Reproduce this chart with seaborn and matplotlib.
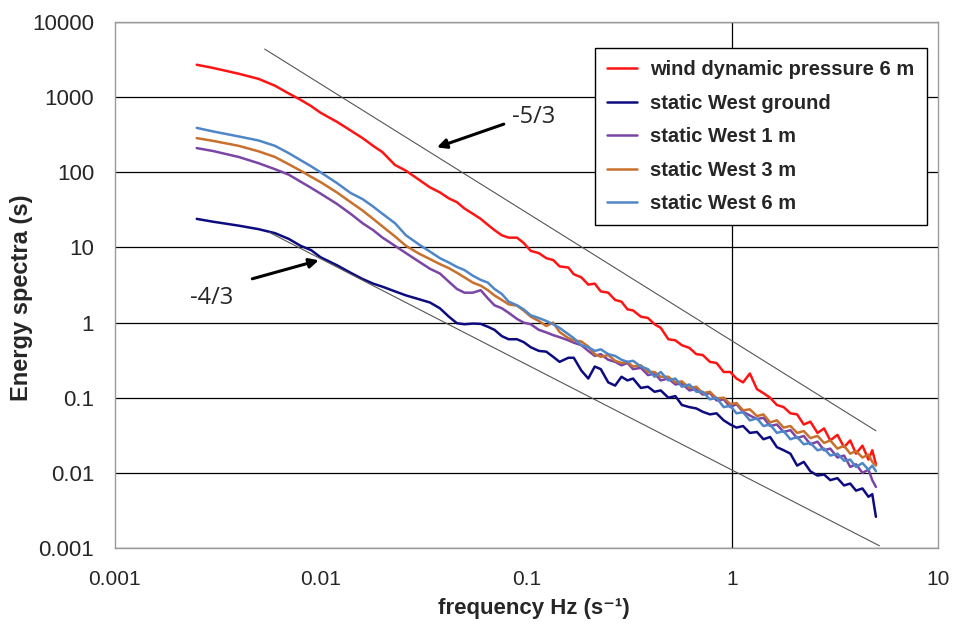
import matplotlib
matplotlib.use("Agg")
import matplotlib.pyplot as plt
import seaborn as sns
import pandas as pd

# frequency grid (Hz) shared by all spectra
freq = [0.0025, 0.003, 0.004, 0.005, 0.006, 0.007, 0.008, 0.009, 0.010, 0.012,
        0.014, 0.016, 0.018, 0.020, 0.023, 0.026, 0.030, 0.034, 0.038, 0.042,
        0.046, 0.050, 0.055, 0.060, 0.065, 0.070, 0.076, 0.082, 0.090, 0.097,
        0.105, 0.115, 0.125, 0.135, 0.145, 0.16, 0.17, 0.185, 0.20, 0.215,
        0.23, 0.25, 0.27, 0.29, 0.31, 0.33, 0.36, 0.39, 0.42, 0.45,
        0.49, 0.53, 0.57, 0.62, 0.67, 0.72, 0.78, 0.84, 0.91, 0.98,
        1.05, 1.13, 1.22, 1.32, 1.42, 1.53, 1.65, 1.78, 1.92, 2.07,
        2.23, 2.4, 2.6, 2.8, 3.0, 3.25, 3.5, 3.75, 4.0, 4.3,
        4.6, 4.8, 5.0]

wind_6m = [2700, 2450, 2050, 1750, 1420, 1120, 920, 760, 620, 470,
           360, 285, 225, 185, 125, 105, 80, 63, 54, 45,
           40, 33, 28, 24, 20, 17, 14.5, 13.5, 13.5, 11.5,
           9.0, 8.4, 7.2, 6.8, 5.6, 5.4, 4.4, 4.0, 3.2, 3.3,
           2.6, 2.5, 2.0, 1.9, 1.5, 1.45, 1.2, 1.15, 0.95, 0.85,
           0.60, 0.58, 0.50, 0.46, 0.38, 0.37, 0.30, 0.29, 0.22, 0.22,
           0.18, 0.16, 0.21, 0.13, 0.115, 0.10, 0.08, 0.075, 0.062, 0.060,
           0.044, 0.048, 0.034, 0.039, 0.027, 0.032, 0.022, 0.027, 0.018, 0.023,
           0.015, 0.020, 0.013]

west_ground = [24, 22, 19.5, 17.5, 15.5, 13, 10.5, 9.2, 7.4, 5.8,
               4.6, 3.8, 3.3, 3.0, 2.6, 2.3, 2.05, 1.85, 1.55, 1.2,
               0.98, 0.95, 0.97, 0.96, 0.88, 0.80, 0.66, 0.60, 0.60, 0.55,
               0.47, 0.42, 0.41, 0.35, 0.30, 0.34, 0.34, 0.23, 0.18, 0.26,
               0.24, 0.16, 0.145, 0.19, 0.17, 0.18, 0.135, 0.14, 0.12, 0.125,
               0.10, 0.105, 0.08, 0.075, 0.072, 0.065, 0.060, 0.062, 0.050, 0.044,
               0.040, 0.042, 0.034, 0.035, 0.028, 0.030, 0.022, 0.020, 0.018, 0.0125,
               0.014, 0.0105, 0.0092, 0.0095, 0.0080, 0.0085, 0.0068, 0.0072, 0.0058, 0.0062,
               0.0048, 0.0052, 0.0026]

west_1m = [210, 192, 160, 132, 110, 93, 75, 62, 52, 38,
           28, 21, 17, 13.5, 10.5, 8.4, 6.5, 5.2, 4.5, 3.5,
           2.8, 2.5, 2.5, 2.7, 2.1, 1.7, 1.55, 1.35, 1.12, 1.0,
           0.95, 0.80, 0.74, 0.68, 0.64, 0.58, 0.54, 0.50, 0.42, 0.36,
           0.38, 0.32, 0.30, 0.27, 0.29, 0.24, 0.25, 0.20, 0.21, 0.17,
           0.18, 0.15, 0.155, 0.125, 0.13, 0.11, 0.115, 0.092, 0.095, 0.075,
           0.082, 0.065, 0.058, 0.052, 0.054, 0.042, 0.044, 0.035, 0.037, 0.029,
           0.031, 0.024, 0.026, 0.020, 0.021, 0.016, 0.017, 0.012, 0.013, 0.010,
           0.011, 0.008, 0.0065]

west_3m = [285, 262, 225, 190, 160, 128, 105, 87, 74, 54,
           40, 31, 24, 19, 14, 10.5, 8.3, 7.0, 6.0, 5.3,
           4.6, 4.0, 3.4, 3.1, 2.7, 2.3, 2.0, 1.75, 1.68, 1.45,
           1.2, 1.05, 0.90, 1.0, 0.75, 0.62, 0.58, 0.56, 0.48, 0.38,
           0.35, 0.37, 0.31, 0.29, 0.30, 0.26, 0.27, 0.22, 0.22, 0.19,
           0.19, 0.16, 0.165, 0.135, 0.14, 0.115, 0.12, 0.098, 0.10, 0.082,
           0.085, 0.068, 0.070, 0.057, 0.060, 0.047, 0.050, 0.040, 0.042, 0.034,
           0.036, 0.029, 0.031, 0.025, 0.027, 0.021, 0.023, 0.018, 0.0195, 0.016,
           0.0175, 0.014, 0.0125]

west_6m = [390, 350, 300, 265, 225, 180, 145, 120, 100, 72,
           53, 44, 35, 28, 21, 14.5, 11, 8.8, 7.2, 6.3,
           5.5, 5.0, 4.2, 3.7, 3.4, 2.8, 2.4, 1.9, 1.7, 1.5,
           1.25, 1.15, 1.05, 0.95, 0.85, 0.70, 0.62, 0.50, 0.47, 0.42,
           0.44, 0.38, 0.36, 0.32, 0.30, 0.31, 0.26, 0.24, 0.19, 0.22,
           0.17, 0.18, 0.14, 0.15, 0.12, 0.12, 0.095, 0.10, 0.075, 0.078,
           0.062, 0.064, 0.050, 0.053, 0.042, 0.044, 0.034, 0.036, 0.028, 0.030,
           0.024, 0.025, 0.020, 0.021, 0.017, 0.018, 0.0145, 0.015, 0.012, 0.0135,
           0.011, 0.0125, 0.0105]

series_names = ["wind dynamic pressure 6 m", "static West ground", "static West 1 m",
                "static West 3 m", "static West 6 m"]
series_colors = ["#FF1414", "#0C0C80", "#7B45A6", "#C8702C", "#4E86C8"]

# reference slopes (end points)
slope53_f = [0.00535, 5.0]
slope53_e = [4365, 0.0363]
slope43_f = [0.00565, 5.2]
slope43_e = [15.8, 0.00107]

x_ticks = [0.001, 0.01, 0.1, 1, 10]
x_labels = ["0.001", "0.01", "0.1", "1", "10"]
y_ticks = [0.001, 0.01, 0.1, 1, 10, 100, 1000, 10000]
y_labels = ["0.001", "0.01", "0.1", "1", "10", "100", "1000", "10000"]

sns.set_style("white")
plt.rcParams["font.family"] = ["Liberation Sans", "DejaVu Sans"]

all_values = [wind_6m, west_ground, west_1m, west_3m, west_6m]
df = pd.DataFrame({
    "frequency": freq * len(series_names),
    "energy": sum(all_values, []),
    "series": [name for name in series_names for _ in freq],
})

fig, ax = plt.subplots(figsize=(9.57, 6.33), dpi=100)
fig.subplots_adjust(left=0.120, right=0.980, bottom=0.1343, top=0.9652)

ax.set_xscale("log")
ax.set_yscale("log")

sns.lineplot(data=df, x="frequency", y="energy", hue="series", hue_order=series_names,
             palette=series_colors, estimator=None, sort=False, linewidth=1.8, ax=ax)

sns.lineplot(x=slope53_f, y=slope53_e, color="#555555", linewidth=0.8, ax=ax, legend=False)
sns.lineplot(x=slope43_f, y=slope43_e, color="#555555", linewidth=0.8, ax=ax, legend=False)

ax.set_xlim(0.001, 10)
ax.set_ylim(0.001, 10000)
ax.minorticks_off()
ax.set_xticks(x_ticks)
ax.set_xticklabels(x_labels, fontsize=15)
ax.set_yticks(y_ticks)
ax.set_yticklabels(y_labels, fontsize=16)
ax.tick_params(axis="x", direction="out", length=4, width=0.8, color="black", pad=12)
ax.tick_params(axis="y", length=0, pad=15)

ax.yaxis.grid(True, color="black", linewidth=0.9)
ax.xaxis.grid(False)
ax.axvline(1, color="black", linewidth=0.9, zorder=1)
for sp in ax.spines.values():
    sp.set_color("#9A9A9A")
    sp.set_linewidth(1.0)

ax.set_xlabel("frequency Hz (s\u207b\u00b9)", fontsize=16, fontweight="bold")
ax.set_ylabel("Energy spectra (s)", fontsize=17, fontweight="bold")
ax.xaxis.set_label_coords(0.509, -0.095)
ax.yaxis.set_label_coords(-0.0996, 0.475)

# slope annotations
ax.annotate("", xy=(0.0357, 209), xytext=(0.080, 450),
            arrowprops=dict(arrowstyle="-|>", color="black", lw=2.2, mutation_scale=14))
ax.text(0.109, 541, "-5/3", fontsize=17, ha="center", va="center", family=["Open Sans", "DejaVu Sans"])
ax.annotate("", xy=(0.0101, 6.9), xytext=(0.00452, 3.74),
            arrowprops=dict(arrowstyle="-|>", color="black", lw=2.2, mutation_scale=14))
ax.text(0.00296, 2.15, "-4/3", fontsize=17, ha="center", va="center", family=["Open Sans", "DejaVu Sans"])

handles, labels = ax.get_legend_handles_labels()
leg = ax.legend(handles[:5], labels[:5], loc="upper right", bbox_to_anchor=(0.9866, 0.9506),
                borderaxespad=0, prop={"weight": "bold", "size": 14.5}, frameon=True,
                fancybox=False, edgecolor="black", framealpha=1, labelspacing=0.72,
                handlelength=1.5, handletextpad=0.65, borderpad=0.6)
leg.get_frame().set_linewidth(1.0)

fig.savefig("out.png", dpi=100)
